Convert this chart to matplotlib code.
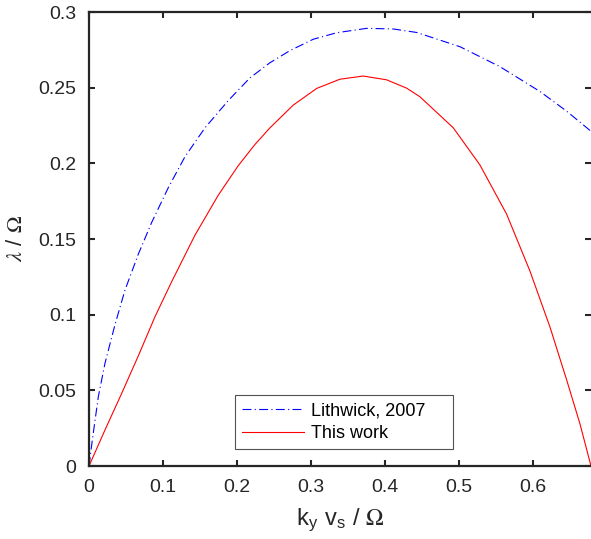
import matplotlib
matplotlib.use("Agg")
import matplotlib.pyplot as plt

plt.rcParams['font.family'] = ['Liberation Sans', 'DejaVu Sans']
plt.rcParams['mathtext.fontset'] = 'stix'

# Values
lithwick_x = [0, 0.0045, 0.0126, 0.0216, 0.0352, 0.0487, 0.0667, 0.0848, 0.1073, 0.1298,
              0.1569, 0.1884, 0.2177, 0.2448, 0.2718, 0.3033, 0.3349, 0.3755, 0.4115,
              0.4431, 0.5017, 0.5558, 0.6099, 0.646, 0.679]
lithwick_y = [0, 0.0172, 0.0458, 0.0679, 0.0935, 0.1163, 0.140, 0.161, 0.184, 0.2044,
              0.2235, 0.2415, 0.2565, 0.2665, 0.2745, 0.2820, 0.2863, 0.2892, 0.2888,
              0.2865, 0.2771, 0.2639, 0.2475, 0.2345, 0.2212]

work_x = [0, 0.0216, 0.0442, 0.0667, 0.0893, 0.1118, 0.1433, 0.1749, 0.2019, 0.2245,
          0.2448, 0.2763, 0.3079, 0.3394, 0.3709, 0.4025, 0.4296, 0.4476, 0.4927, 0.5287,
          0.5648, 0.5963, 0.6234, 0.646, 0.664, 0.679]
work_y = [0, 0.0238, 0.048, 0.0728, 0.0987, 0.1218, 0.1525, 0.1790, 0.1985, 0.2125,
          0.2235, 0.2385, 0.2495, 0.2556, 0.2577, 0.2552, 0.2497, 0.2440, 0.2235, 0.1990,
          0.1665, 0.1290, 0.0920, 0.0570, 0.0280, 0]

xticks = [0, 0.1, 0.2, 0.3, 0.4, 0.5, 0.6]
xtick_labels = ['0', '0.1', '0.2', '0.3', '0.4', '0.5', '0.6']
yticks = [0, 0.05, 0.1, 0.15, 0.2, 0.25, 0.3]
ytick_labels = ['0', '0.05', '0.1', '0.15', '0.2', '0.25', '0.3']

fig = plt.figure(figsize=(5.91, 5.39), dpi=100)
ax = fig.add_axes([0.1506, 0.1354, 0.8494, 0.8423])

ax.plot(lithwick_x, lithwick_y, color='blue', lw=0.8, linestyle=(0, (8, 3, 1, 3)),
        label='Lithwick, 2007')
ax.plot(work_x, work_y, color='red', lw=0.8, label='This work')

ax.set_xlim(0, 0.679)
ax.set_ylim(0, 0.3)
ax.set_xticks(xticks)
ax.set_xticklabels(xtick_labels)
ax.set_yticks(yticks)
ax.set_yticklabels(ytick_labels)

ax.tick_params(direction='in', top=True, right=True, length=4, width=1.5,
               labelsize=14, colors='#262626', pad=9)
for s in ax.spines.values():
    s.set_linewidth(1.6)
    s.set_color('#262626')
ax.spines['right'].set_visible(False)

ax.set_xlabel(r'k$_\mathregular{y}$ v$_\mathregular{s}$ / $\Omega$', fontsize=17,
              color='#262626', labelpad=8)
ax.set_ylabel(r'$\lambda$ / $\Omega$', fontsize=16, color='#262626', labelpad=8)

leg = ax.legend(loc='lower left', bbox_to_anchor=(0.291, 0.037, 0.434, 0.119),
                mode='expand', borderaxespad=0, fontsize=13, fancybox=False,
                handlelength=3.4, handletextpad=0.4, borderpad=0.4, labelspacing=0.3)
leg.get_frame().set_edgecolor('#262626')
leg.get_frame().set_linewidth(0.8)

fig.savefig('out.png', dpi=100)
